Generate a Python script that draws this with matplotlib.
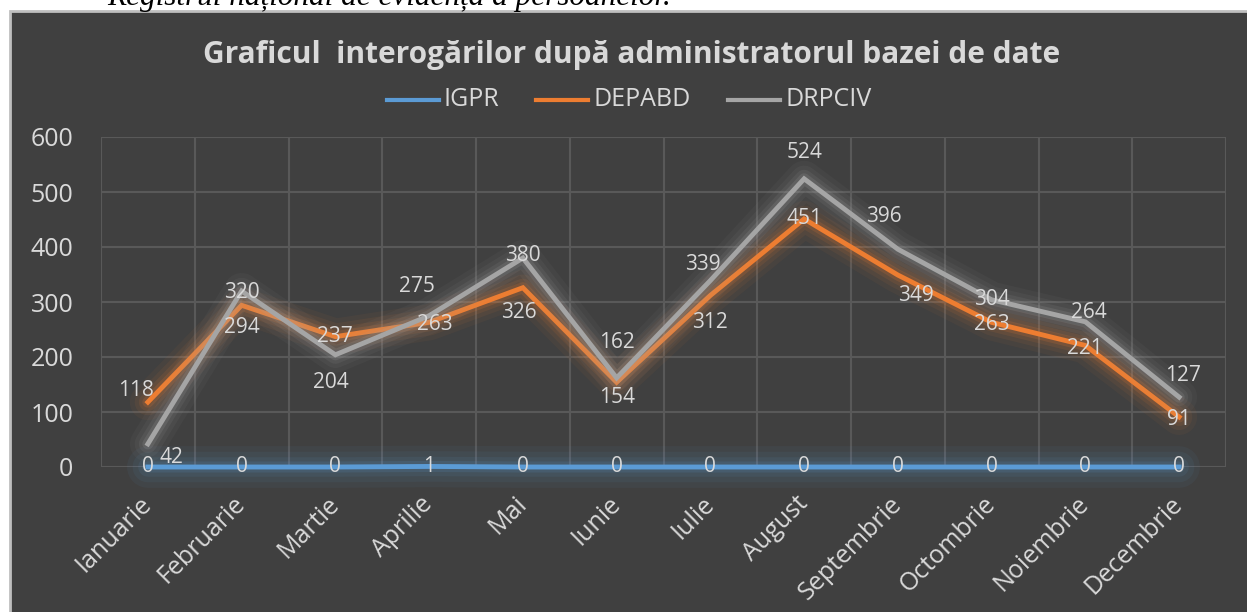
import matplotlib.pyplot as plt
from matplotlib.patches import Rectangle

months = ['Ianuarie', 'Februarie', 'Martie', 'Aprilie', 'Mai', 'Iunie', 'Iulie',
          'August', 'Septembrie', 'Octombrie', 'Noiembrie', 'Decembrie']
igpr = [0, 0, 0, 1, 0, 0, 0, 0, 0, 0, 0, 0]
depabd = [118, 294, 237, 263, 326, 154, 312, 451, 349, 263, 221, 91]
drpciv = [42, 320, 204, 275, 380, 162, 339, 524, 396, 304, 264, 127]

# label offsets in pixels (dx, dy), mimicking Excel's placement
off_depabd = [(-12, 12), (0, -22), (0, 0), (6, -2), (-4, -25), (0, -15),
              (0, -27), (0, 0), (18, -20), (0, -2), (0, -3), (0, -3)]
off_drpciv = [(24, -14), (0, -1), (-4, -28), (-12, 29), (0, 2), (0, 35),
              (-8, 16), (0, 26), (-14, 33), (0, 0), (4, 9), (4, 22)]

bg = '#404040'
fg = '#d9d9d9'
grid_c = '#595959'
c_igpr = '#5b9bd5'
c_dep = '#ed7d31'
c_drp = '#a5a5a5'

plt.rcParams['font.family'] = ['Open Sans', 'DejaVu Sans']

fig = plt.figure(figsize=(12.47, 6.12), dpi=100)
fig.patch.set_facecolor('white')

# dark chart box with light border
W, H = 1247, 612
box = Rectangle((10 / W, -0.01), 1 - 10 / W + 0.01, 1.01 - 11 / H, transform=fig.transFigure,
                facecolor=bg, edgecolor='#bfbfbf', linewidth=2, zorder=-5)
fig.patches.append(box)

fig.text(107 / W, 1 - 5 / H, 'Registrul național de evidență a persoanelor.',
         family='Liberation Serif', style='italic', fontsize=22.5, color='black',
         ha='left', va='baseline', zorder=-4)

ax = fig.add_axes([101 / W, 1 - 467 / H, (1226 - 101) / W, (467 - 137) / H])
ax.set_facecolor('none')
x = list(range(len(months)))


def glow_line(vals, color, z, steps):
    for lw, a in steps:
        ax.plot(x, vals, color=color, lw=lw, alpha=a, solid_capstyle='round',
                solid_joinstyle='round', zorder=z, clip_on=False)
    ax.plot(x, vals, color=color, lw=3.5, solid_joinstyle='miter', zorder=z + 0.5,
            clip_on=False)


glow = [(26, 0.05), (19, 0.07), (13, 0.1), (8, 0.16)]
glow_line(igpr, c_igpr, 3, [(30, 0.06), (22, 0.07), (14, 0.09), (8, 0.14)])
glow_line(depabd, c_dep, 4, glow)
glow_line(drpciv, c_drp, 5, glow)

for i, v in enumerate(igpr):
    ax.annotate(str(v), (i, v), xytext=(0, 0), textcoords='offset pixels',
                ha='center', va='center', fontsize=15, color=fg, zorder=10)
for i, v in enumerate(depabd):
    ax.annotate(str(v), (i, v), xytext=off_depabd[i], textcoords='offset pixels',
                ha='center', va='center', fontsize=15, color=fg, zorder=10)
for i, v in enumerate(drpciv):
    ax.annotate(str(v), (i, v), xytext=off_drpciv[i], textcoords='offset pixels',
                ha='center', va='center', fontsize=15, color=fg, zorder=10)

ax.set_xlim(-0.5, len(months) - 0.5)
ax.set_ylim(0, 600)
ax.set_yticks(range(0, 601, 100))
ax.set_xticks(x)
ax.set_xticklabels(months, rotation=45, ha='right', va='center',
                   rotation_mode='anchor')
ax.set_xticks([i - 0.5 for i in range(len(months) + 1)], minor=True)
ax.grid(True, which='minor', axis='x', color=grid_c, lw=1.5, zorder=1)
ax.grid(True, which='major', axis='y', color=grid_c, lw=1.5, zorder=1)
ax.tick_params(axis='both', which='both', length=0, colors=fg, labelsize=18)
ax.tick_params(axis='y', pad=20)
ax.tick_params(axis='x', pad=24)
for s in ax.spines.values():
    s.set_visible(False)
ax.set_axisbelow(True)

fig.text(632 / W, 1 - 55 / H, 'Graficul  interogărilor după administratorul bazei de date',
         ha='center', va='center', fontsize=21.5, fontweight='bold', color=fg)

# legend drawn by hand
legend_items = [('IGPR', c_igpr, 387), ('DEPABD', c_dep, 536), ('DRPCIV', c_drp, 728)]
for name, col, x0 in legend_items:
    fig.lines.append(plt.Line2D([x0 / W, (x0 + 52) / W], [1 - 100 / H, 1 - 100 / H],
                                transform=fig.transFigure, color=col, lw=3))
    fig.text((x0 + 57) / W, 1 - 100 / H, name, ha='left', va='center',
             fontsize=18, color=fg)

fig.savefig('out.png', dpi=100, facecolor=fig.get_facecolor())
